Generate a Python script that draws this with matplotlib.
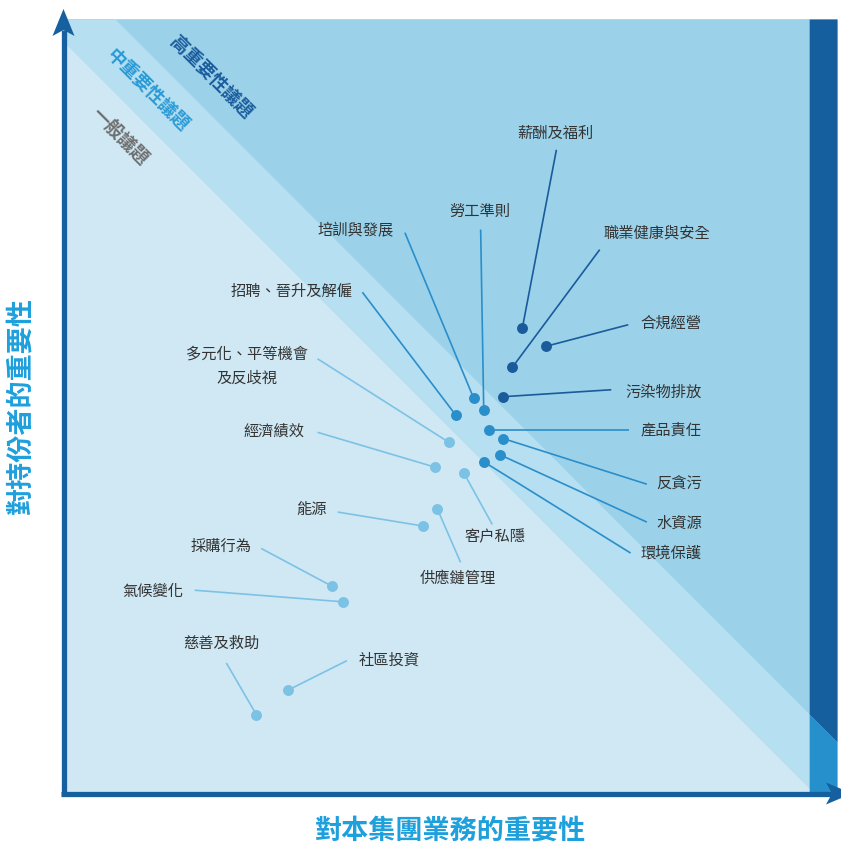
import matplotlib
matplotlib.use("Agg")
import matplotlib.pyplot as plt
import numpy as np
from matplotlib.patches import Polygon
from matplotlib.lines import Line2D

plt.rcParams['font.family'] = ['Noto Sans CJK TC', 'DejaVu Sans']

# ---------------- data (importance scores, 0-100) ----------------
issues = ["薪酬及福利", "合規經營", "職業健康與安全", "污染物排放",
          "培訓與發展", "勞工準則", "招聘、晉升及解僱", "產品責任",
          "反貪污", "水資源", "環境保護",
          "多元化、平等機會\n及反歧視", "經濟績效", "客户私隱", "供應鏈管理",
          "能源", "採購行為", "氣候變化", "慈善及救助", "社區投資"]
business = [59.3, 62.3, 58.0, 56.8,
            53.0, 54.3, 50.7, 55.0,
            56.8, 56.4, 54.3,
            49.8, 48.0, 51.7, 48.3,
            46.4, 34.7, 36.1, 24.9, 29.0]
stakeholder = [60.1, 57.7, 55.0, 51.2,
               51.0, 49.5, 48.8, 46.9,
               45.8, 43.7, 42.8,
               45.3, 42.1, 41.4, 36.7,
               34.5, 26.7, 24.7, 10.1, 13.3]
level = ["high", "high", "high", "high",
         "mid", "mid", "mid", "mid", "mid", "mid", "mid",
         "low", "low", "low", "low", "low", "low", "low", "low", "low"]
band_names = ["高重要性議題", "中重要性議題", "一般議題"]
xlabel = "對本集團業務的重要性"
ylabel = "對持份者的重要性"

# ---------------- layout (leader line ends and label centres) ----------------
line_end = [(63.7, 83.1), (73.0, 60.5), (69.3, 70.2), (70.8, 52.1),
            (44.1, 72.4), (53.9, 72.8), (38.6, 64.7), (73.1, 46.9),
            (75.4, 39.9), (75.4, 35.0), (73.3, 31.0),
            (32.8, 56.1), (32.8, 46.6), (55.4, 34.7), (51.3, 29.8),
            (35.4, 36.3), (25.5, 31.6), (16.9, 26.2), (21.0, 16.8), (36.6, 17.1)]
label_pos = [(63.6, 85.2), (78.5, 60.7), (76.7, 72.4), (77.5, 51.8),
             (37.7, 72.6), (53.8, 75.1), (29.5, 64.8), (78.5, 46.9),
             (79.6, 39.9), (79.6, 34.9), (78.5, 31.0),
             (23.7, 55.1), (27.1, 46.7), (55.8, 33.1), (50.9, 27.7),
             (32.0, 36.6), (20.3, 31.8), (11.5, 26.1), (20.4, 19.3), (42.0, 17.2)]

colors = {"high": "#1a5b9b", "mid": "#2a8ecb", "low": "#7cc2e5"}

W, H = 841, 844
fig = plt.figure(figsize=(W / 100, H / 100), dpi=100)

L, R, T, B = 64, 837, 19, 793
ax = fig.add_axes([L / W, (H - B) / H, (R - L) / W, (B - T) / H])
ax.set_xlim(0, 100)
ax.set_ylim(0, 100)
ax.axis("off")

# background bands
xx = np.linspace(0, 100, 400)
ax.fill_between([0, 100], 0, 100, color="#cfe8f4", zorder=0, lw=0)
ax.fill_between(xx, 97.0 - xx, 100, color="#b6dff1", zorder=0.1, lw=0)
ax.fill_between(xx, 106.6 - xx, 100, color="#9bd2ea", zorder=0.2, lw=0)
xs = np.linspace(96.4, 100, 50)
ax.fill_between(xs, 0, 106.6 - xs, color="#2690cc", zorder=0.3, lw=0)
ax.fill_between(xs, 106.6 - xs, 100, color="#155f9f", zorder=0.3, lw=0)

# band labels
ax.text(19.0, 92.4, band_names[0], rotation=-45, color="#1a5c9c", fontsize=13,
        fontweight="bold", ha="center", va="center", rotation_mode="anchor")
ax.text(10.8, 90.8, band_names[1], rotation=-45, color="#2a9ad5", fontsize=13,
        fontweight="bold", ha="center", va="center", rotation_mode="anchor")
ax.text(7.2, 84.8, band_names[2], rotation=-45, color="#6e6e6e", fontsize=13,
        fontweight="bold", ha="center", va="center", rotation_mode="anchor")

# leader lines, points, labels
for name, bx, sy, lv, (ex, ey), (tx, ty) in zip(issues, business, stakeholder, level, line_end, label_pos):
    c = colors[lv]
    ax.plot([bx, ex], [sy, ey], color=c, lw=1.2, zorder=2, solid_capstyle="butt")
    ax.scatter([bx], [sy], s=62, color=c, zorder=3, linewidths=0)
    ax.text(tx, ty, name, fontsize=11, color="#333333", ha="center", va="center",
            zorder=4, linespacing=1.55)

# axis arrows (figure pixel helper)
def fx(p):
    return p / W

def fy(p):
    return 1 - p / H

ac = "#1660a0"
fig.add_artist(Line2D([fx(63.5), fx(63.5)], [fy(796), fy(30)], color=ac, lw=3.8,
                      transform=fig.transFigure, solid_capstyle="butt"))
fig.add_artist(Polygon([(fx(63.5), fy(9)), (fx(52.5), fy(36)), (fx(63.5), fy(30)),
                        (fx(74.5), fy(36))], closed=True, color=ac, transform=fig.transFigure, lw=0))
fig.add_artist(Line2D([fx(61), fx(832)], [fy(793.5), fy(793.5)], color=ac, lw=3.8,
                      transform=fig.transFigure, solid_capstyle="butt"))
fig.add_artist(Polygon([(fx(852), fy(793.5)), (fx(826), fy(782.5)), (fx(832), fy(793.5)),
                        (fx(826), fy(804.5))], closed=True, color=ac, transform=fig.transFigure, lw=0))

# axis titles
fig.text(fx(451), fy(831), xlabel, fontsize=19.5, color="#1ea0dc", fontweight="bold",
         ha="center", va="center")
fig.text(fx(21), fy(405), ylabel, fontsize=19.5, color="#1ea0dc", fontweight="bold",
         ha="center", va="center", rotation=90)

fig.savefig("out.png", dpi=100)
